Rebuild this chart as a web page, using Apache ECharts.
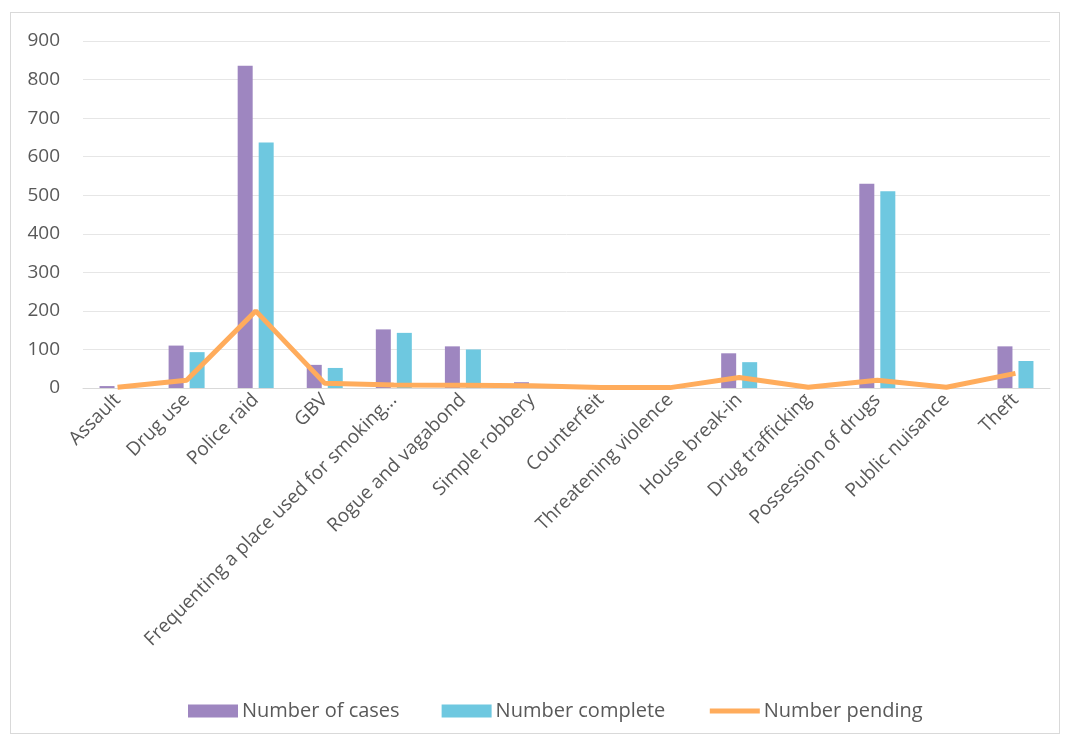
<!DOCTYPE html>
<html>
<head>
<meta charset="utf-8">
<script src="https://cdn.jsdelivr.net/npm/echarts@6/dist/echarts.min.js"></script>
<style>
  html, body { margin: 0; padding: 0; background: #fff; }
  #frame { position: absolute; left: 10px; top: 12px; width: 1050px; height: 722px; border: 1px solid #d9d9d9; box-sizing: border-box; }
  #chart { position: absolute; left: 0; top: 0; width: 1066px; height: 737px; }
</style>
</head>
<body>
<div id="frame"></div>
<div id="chart"></div>
<script>
const categories = [
  "Assault", "Drug use", "Police raid", "GBV",
  "Frequenting a place used for smoking...", "Rogue and vagabond",
  "Simple robbery", "Counterfeit", "Threatening violence", "House break-in",
  "Drug trafficking", "Possession of drugs", "Public nuisance", "Theft"
];
const numberOfCases = [5, 110, 836, 60, 152, 108, 15, 0, 0, 90, 0, 530, 0, 108];
const numberComplete = [0, 93, 637, 52, 143, 100, 0, 0, 0, 67, 0, 510, 0, 70];
const numberPending = [2, 20, 200, 12, 8, 7, 6, 1, 1, 27, 2, 20, 2, 38];
const yTicks = { min: 0, max: 900, interval: 100 };

const chart = echarts.init(document.getElementById("chart"));
const option = {
  animation: false,
  textStyle: { fontFamily: "Open Sans" },
  grid: { left: 83, right: 16, top: 41, bottom: 349, containLabel: false },
  legend: {
    top: 696,
    left: 183,
    itemGap: 42,
    itemWidth: 50,
    itemHeight: 13,
    textStyle: { color: "#595959", fontSize: 20, padding: [0, 0, 0, -1] },
    data: [
      { name: "Number of cases", icon: "rect" },
      { name: "Number complete", icon: "rect" },
      { name: "Number pending", itemStyle: { opacity: 0 }, lineStyle: { width: 5 } }
    ]
  },
  xAxis: {
    type: "category",
    data: categories,
    axisTick: { show: false },
    axisLine: { lineStyle: { color: "#d9d9d9", width: 1 } },
    axisLabel: { rotate: 45, color: "#595959", fontSize: 19, interval: 0, margin: 9 }
  },
  yAxis: {
    type: "value",
    min: yTicks.min,
    max: yTicks.max,
    interval: yTicks.interval,
    axisLine: { show: false },
    axisTick: { show: false },
    axisLabel: { color: "#595959", fontSize: 19, margin: 23 },
    splitLine: { lineStyle: { color: "#e6e6e6", width: 1 } }
  },
  series: [
    {
      name: "Number of cases",
      type: "bar",
      data: numberOfCases,
      barWidth: 15,
      barGap: "40%",
      itemStyle: { color: "#9e86c0" }
    },
    {
      name: "Number complete",
      type: "bar",
      data: numberComplete,
      barWidth: 15,
      itemStyle: { color: "#6ec8e0" }
    },
    {
      name: "Number pending",
      type: "line",
      data: numberPending,
      symbol: "none",
      lineStyle: { color: "#ffac5c", width: 5 },
      itemStyle: { color: "#ffac5c" }
    }
  ]
};
chart.setOption(option);
</script>
</body>
</html>
